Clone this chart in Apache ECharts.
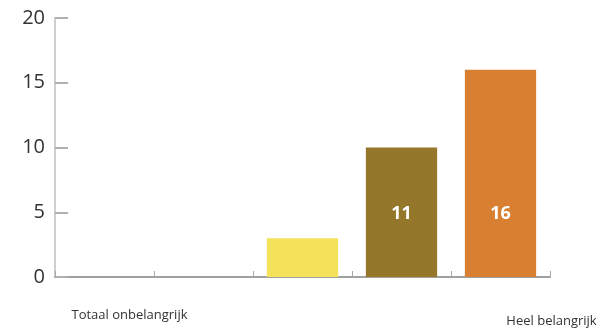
<!DOCTYPE html>
<html><head><meta charset="utf-8">
<script src="https://cdn.jsdelivr.net/npm/echarts@6/dist/echarts.min.js"></script>
<style>html,body{margin:0;padding:0;background:#fff}#c{width:602px;height:335px}</style>
</head><body><div id="c"></div>
<script>
var categories = ['Totaal onbelangrijk', '2', '3', '4', 'Heel belangrijk'];
var tickLabels = ['Totaal onbelangrijk', '', '', '', 'Heel belangrijk'];
var values = [0, 0, 3, 10, 16];
var valueLabels = ['', '', '', '11', '16'];
var barColors = ['#f3e25a', '#f3e25a', '#f3e25a', '#94772b', '#d97f31'];
var yTicks = [0, 5, 10, 15, 20];

var chart = echarts.init(document.getElementById('c'));
chart.setOption({
  animation: false,
  textStyle: { fontFamily: 'Open Sans' },
  grid: { left: 55, right: 52, top: 18, bottom: 58, containLabel: false },
  xAxis: {
    type: 'category',
    data: categories.map(function (c, i) {
      var ts = i === 0 ? { padding: [0, 0, 0, 50] } : { padding: [6, 0, 0, 102] };
      return { value: c, textStyle: ts };
    }),
    boundaryGap: true,
    axisLine: { lineStyle: { color: '#a0a0a0', width: 2 } },
    axisTick: { show: true, inside: true, length: 6, lineStyle: { color: '#a8a8a8', width: 1 } },
    axisLabel: {
      interval: 0, margin: 32, fontSize: 13, color: '#333',
      formatter: function (v, i) { return tickLabels[i]; }
    }
  },
  yAxis: {
    type: 'value', min: 0, max: 20, interval: 5,
    axisLine: { show: true, lineStyle: { color: '#cfcfcf', width: 2 } },
    axisTick: { show: true, inside: true, length: 13, lineStyle: { color: '#b0b0b0', width: 2 } },
    splitLine: { show: false },
    axisLabel: {
      margin: 10, fontSize: 20, color: '#333',
      formatter: function (v) { return yTicks.indexOf(v) >= 0 ? String(v) : ''; }
    }
  },
  series: [{
    type: 'bar',
    barWidth: '72%',
    data: values.map(function (v, i) {
      return { value: v, itemStyle: { color: barColors[i] } };
    }),
    label: {
      show: true, position: 'insideBottom', distance: 54,
      color: '#fff', fontSize: 18, fontWeight: 'bold',
      formatter: function (p) { return valueLabels[p.dataIndex]; }
    }
  }]
});
</script></body></html>
